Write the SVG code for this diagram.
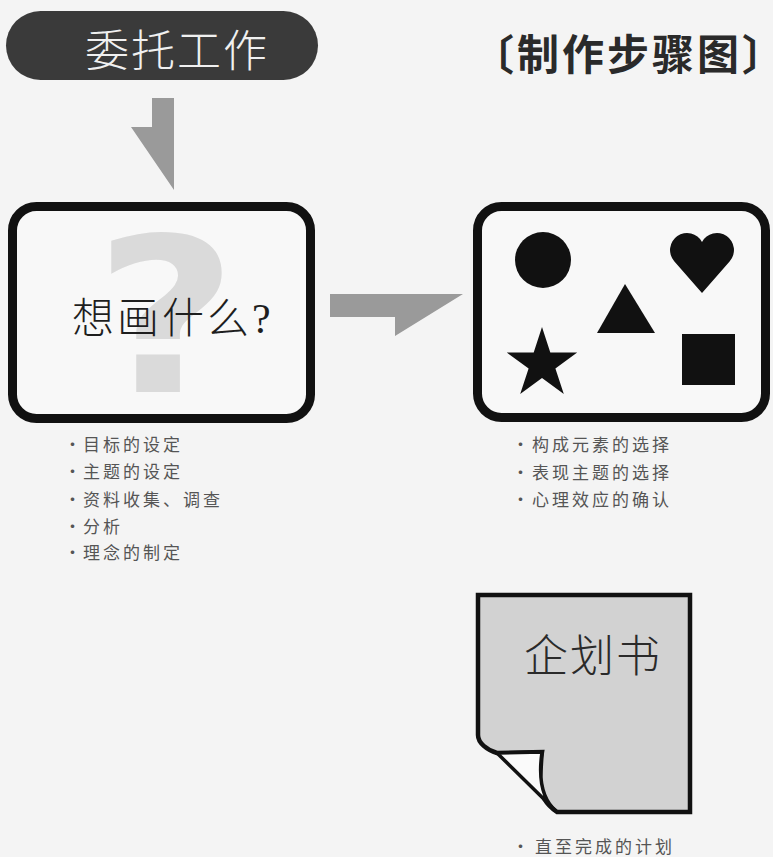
<svg xmlns="http://www.w3.org/2000/svg" width="773" height="857" viewBox="0 0 773 857">
<defs>
<style>
.cjk{font-family:"Noto Sans CJK SC","Noto Sans CJK TC",sans-serif;}
.ser{font-family:"Liberation Serif","Noto Sans CJK SC",serif;font-weight:300;}
.box{fill:#f8f8f8;stroke:#111;stroke-width:9;}
.shape{fill:#111;}
.arrow{fill:#9a9a9a;}
.item{font-family:"Noto Sans CJK SC",sans-serif;font-size:17px;fill:#555;letter-spacing:3px;}
.dot{font-family:"Noto Sans CJK SC",sans-serif;font-size:17px;fill:#555;}
</style>
</defs>
<rect x="0" y="0" width="773" height="857" fill="#f4f4f4"/>

<g id="title">
<text class="cjk" x="472" y="70" font-size="42" font-weight="bold" fill="#2a2a2a" letter-spacing="3">〔制作步骤图</text>
<text class="cjk" x="742" y="70" font-size="42" font-weight="bold" fill="#2a2a2a">〕</text>
</g>

<g id="start">
<rect x="6" y="11" width="312" height="69" rx="34.5" fill="#3a3a3a"/>
<text class="ser" x="85" y="67" font-size="44" fill="#f0f0f0" letter-spacing="2">委托工作</text>
</g>

<g id="connectors">
<polygon class="arrow" points="152,98 174,98 174,190 131,127 152,127"/>
<polygon class="arrow" points="330,294 463,294 395,336 395,317 330,317"/>
</g>

<g id="what">
<rect class="box" x="12.5" y="206.5" width="298" height="212" rx="24"/>
<text transform="translate(166,392) scale(1.15,1)" text-anchor="middle" font-family="DejaVu Sans,sans-serif" font-weight="bold" font-size="215" fill="#dadada">?</text>
<text class="ser" x="72" y="333" font-size="42" fill="#1e1e1e" letter-spacing="3">想画什么?</text>
</g>

<g id="what-list">
<text class="dot" x="64" y="451">·</text><text class="item" x="83" y="451">目标的设定</text>
<text class="dot" x="64" y="478">·</text><text class="item" x="83" y="478">主题的设定</text>
<text class="dot" x="64" y="506">·</text><text class="item" x="83" y="506">资料收集、调查</text>
<text class="dot" x="64" y="533">·</text><text class="item" x="83" y="533">分析</text>
<text class="dot" x="64" y="559">·</text><text class="item" x="83" y="559">理念的制定</text>
</g>

<g id="elements">
<rect class="box" x="477.5" y="206.5" width="288" height="211" rx="24"/>
<circle class="shape" cx="543" cy="260" r="28"/>
<path class="shape" d="M702,293 L674.2,261.2 A17,17 0 1 1 702,242 A17,17 0 1 1 729.8,261.2 Z"/>
<polygon class="shape" points="625,284 655,333 597,333"/>
<polygon class="shape" points="542,327 550.3,352.6 577.2,352.6 555.4,368.4 563.8,393.9 542,378.1 520.2,393.9 528.6,368.4 506.8,352.6 533.7,352.6"/>
<rect class="shape" x="682" y="334" width="53" height="51"/>
</g>

<g id="elements-list">
<text class="dot" x="512" y="451">·</text><text class="item" x="532" y="451">构成元素的选择</text>
<text class="dot" x="512" y="479">·</text><text class="item" x="532" y="479">表现主题的选择</text>
<text class="dot" x="512" y="506">·</text><text class="item" x="532" y="506">心理效应的确认</text>
</g>

<g id="plan">
<path d="M478,595 L690,595 L690,812 L557,812 C545,804 539,792 540,778 C541,766 541,758 542,752 L497,753 C487,750 478,743 478,735 Z" fill="#d2d2d2" stroke="#111" stroke-width="4.5" stroke-linejoin="miter"/>
<path d="M497,753 L542,752 C540,766 537,796 557,812 Z" fill="#fafafa" stroke="#111" stroke-width="3.5" stroke-linejoin="round"/>
<text class="ser" x="593" y="672" font-size="44" fill="#2a2a2a" text-anchor="middle" letter-spacing="2">企划书</text>
<text class="dot" x="512" y="853">·</text><text class="item" x="535" y="853">直至完成的计划</text>
</g>
</svg>
